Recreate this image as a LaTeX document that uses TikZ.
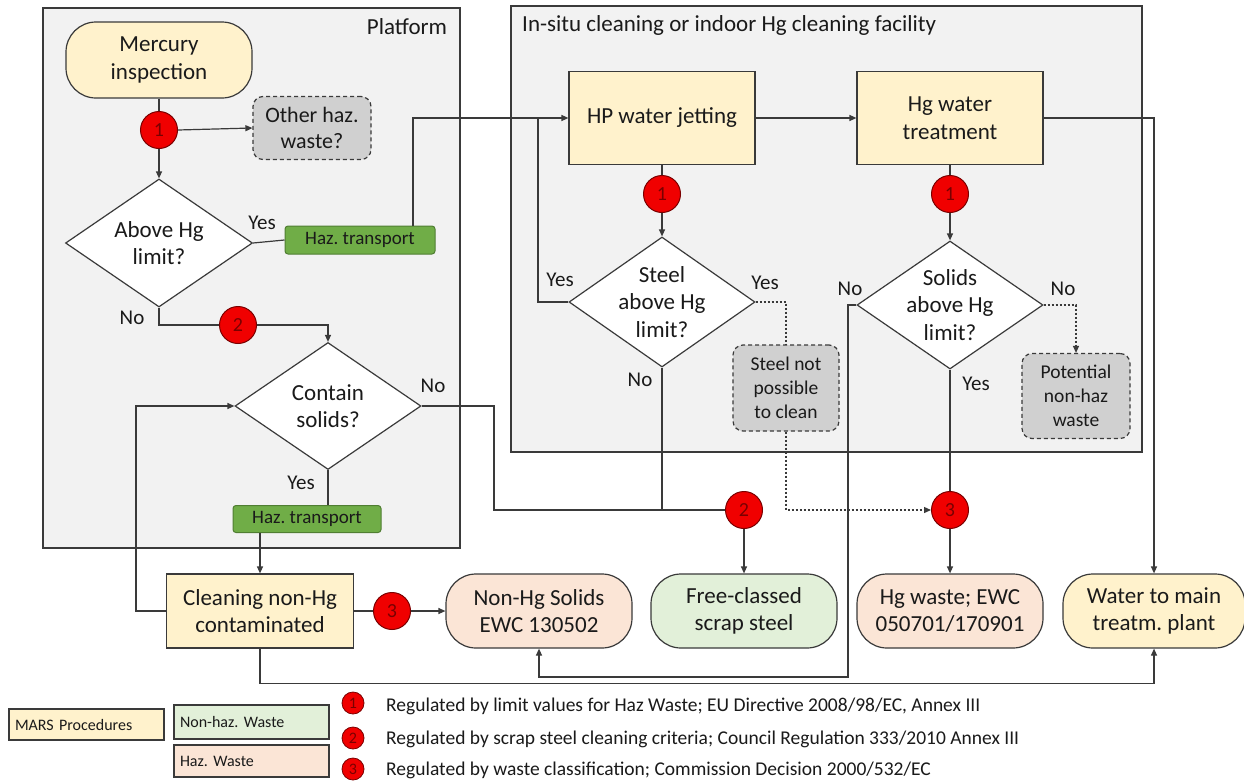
\documentclass[tikz,border=0pt]{standalone}
\usepackage{fontspec}
\setmainfont{Carlito}
\frenchspacing
\usetikzlibrary{shapes.geometric,arrows.meta,calc}
\definecolor{mars}{HTML}{FFF2CC}
\definecolor{nonhaz}{HTML}{E2F0D9}
\definecolor{hazc}{HTML}{FBE5D6}
\definecolor{zone}{HTML}{F2F2F2}
\definecolor{grayb}{HTML}{D0D0D0}
\definecolor{hazt}{HTML}{70AD47}
\definecolor{haztb}{HTML}{507E32}
\definecolor{linec}{HTML}{3A3A3A}
\definecolor{redc}{HTML}{F00000}
\definecolor{numc}{HTML}{7A0000}
\definecolor{txtc}{HTML}{1A1A1A}
\tikzset{
  conn/.style={draw=linec, line width=1.2pt},
  arr/.style={conn, -{Triangle[length=7pt,width=6pt]}},
  dotc/.style={conn, dash pattern=on 2pt off 2pt},
  dotarr/.style={dotc, -{Triangle[length=7pt,width=6pt]}},
  zonebox/.style={draw=linec, line width=1.2pt, fill=zone},
  txt/.style={font=\fontsize{23}{27.5}\selectfont, align=center, text=txtc},
  lbl/.style={font=\fontsize{21}{25}\selectfont, text=txtc, inner sep=0},
  proc/.style={txt, draw=linec, line width=1.2pt, fill=mars, inner sep=0},
  term/.style={txt, draw=linec, line width=1.2pt, rounded corners=30pt, inner sep=0, minimum width=186pt, minimum height=74pt},
  dia/.style={diamond, draw=linec, line width=1.2pt, fill=white, inner sep=0},
  num/.style={circle, fill=redc, draw=numc, line width=1pt, minimum size=37pt, inner sep=0, font=\fontsize{20}{20}\selectfont, text=numc},
  lnum/.style={circle, fill=redc, draw=numc, line width=0.8pt, minimum size=22pt, inner sep=0, font=\fontsize{16}{16}\selectfont, text=numc},
  gbox/.style={font=\fontsize{19.5}{24}\selectfont, align=center, text=txtc, draw=linec, line width=1.2pt, dash pattern=on 4pt off 3pt, rounded corners=10pt, fill=grayb, inner sep=0},
  hazbox/.style={font=\fontsize{19}{19}\selectfont, text=txtc, draw=haztb, line width=1pt, fill=hazt, rounded corners=3pt, inner sep=0},
  legbox/.style={font=\fontsize{16}{16}\selectfont, text=txtc, draw=linec, line width=1.2pt, inner sep=0, align=left},
  legtxt/.style={font=\fontsize{19.5}{19.5}\selectfont, text=txtc, inner sep=0, anchor=west}
}
\begin{document}
\begin{tikzpicture}[x=1pt,y=-1pt]
\useasboundingbox (0,0) rectangle (1244,782);
\fill[white] (0,0) rectangle (1244,782);

% zones
\path[zonebox] (43,8) rectangle (460,548);
\path[zonebox] (511,6) rectangle (1142,452);
\node[txt, anchor=center] (platlbl) at (407,27) {Platform};
\node[txt, anchor=west, inner sep=0] (insitulbl) at (522,25) {In-situ cleaning or indoor Hg cleaning facility};

% platform nodes
\node[term, fill=mars, minimum width=186pt, minimum height=76pt] (merc) at (159,60) {Mercury\\inspection};
\node[num] (c1a) at (159,130) {1};
\node[gbox, font=\fontsize{22}{26}\selectfont, minimum width=118pt, minimum height=63pt] (other) at (312,128) {Other haz.\\waste?};
\node[dia, minimum width=187pt, minimum height=128pt, label={[txt]center:Above Hg\\limit?}] (d1) at (159,243) {};
\node[hazbox, minimum width=150pt, minimum height=28pt] (haz1) at (360,240) {Haz. transport};
\node[num] (c2a) at (238,325) {2};
\node[dia, minimum width=186pt, minimum height=127pt, label={[txt]center:Contain\\solids?}] (d4) at (328,406) {};
\node[hazbox, minimum width=148pt, minimum height=27pt] (haz2) at (307,519) {Haz. transport};

% in-situ nodes
\node[proc, minimum width=186pt, minimum height=93pt] (hp) at (662,118) {HP water jetting};
\node[proc, minimum width=186pt, minimum height=93pt] (hgw) at (950,118) {Hg water\\treatment};
\node[num] (c1b) at (662,194) {1};
\node[num] (c1c) at (950,194) {1};
\node[dia, minimum width=186pt, minimum height=130pt, label={[txt]center:Steel\\above Hg\\limit?}] (d2) at (662,302) {};
\node[dia, minimum width=186pt, minimum height=128pt, label={[txt]center:Solids\\above Hg\\limit?}] (d3) at (950,305) {};
\node[gbox, minimum width=106pt, minimum height=86pt] (steelnp) at (786,388) {Steel not\\possible\\to clean};
\node[gbox, minimum width=108pt, minimum height=85pt] (pot) at (1076,396) {Potential\\non-haz\\waste};

% bottom row
\node[proc, minimum width=187pt, minimum height=74pt] (clean) at (260,611) {Cleaning non-Hg\\contaminated};
\node[num] (c3a) at (392,611) {3};
\node[term, fill=hazc] (nonhg) at (539,611) {Non-Hg Solids\\EWC 130502};
\node[term, fill=nonhaz] (free) at (744,611) {Free-classed\\scrap steel};
\node[term, fill=hazc] (hgwaste) at (950,611) {Hg waste; EWC\\050701/170901};
\node[term, fill=mars, minimum width=182pt] (water) at (1154,611) {Water to main\\treatm. plant};
\node[num] (c2b) at (744,510) {2};
\node[num] (c3b) at (950,510) {3};

% labels
\node[lbl] (l1) at (262,223) {Yes};
\node[lbl] (l2) at (132,318) {No};
\node[lbl] (l3) at (433,386) {No};
\node[lbl] (l4) at (301,483) {Yes};
\node[lbl] (l5) at (560,280) {Yes};
\node[lbl] (l6) at (765,283) {Yes};
\node[lbl] (l7) at (640,380) {No};
\node[lbl] (l8) at (850,289) {No};
\node[lbl] (l9) at (1063,289) {No};
\node[lbl] (l10) at (976,384) {Yes};

% coordinates
\coordinate (j1) at (538,118);
\coordinate (j2) at (413,118);
\coordinate (b1) at (848,677);
\coordinate (b2) at (494,406);

% connectors platform
\draw[conn] (merc.south) -- (c1a.north);
\draw[arr] (c1a.south) -- (d1.north);
\draw[arr] (c1a.east) -- (other.west);
\draw[conn] (d1.east) -- (haz1.west);
\draw[arr] (haz1.north -| j2) -- (j2) -- (hp.west);
\draw[conn] (d1.south) |- (c2a.west);
\draw[arr] (c2a.east) -| (d4.north);
\draw[conn] (d4.south) -- (d4.south |- haz2.north);
\draw[arr] (haz2.south -| clean.north) -- (clean.north);
\draw[arr] (clean.west) -- ++(-30,0) |- (d4.west);
\draw[conn] (clean.east) -- (c3a.west);
\draw[arr] (c3a.east) -- (nonhg.west);
\draw[arr] (clean.south) -- ++(0,35) -| (water.south);

% connectors in-situ
\draw[conn] (d2.west) -| (j1);
\draw[arr] (hp.east) -- (hgw.west);
\draw[conn] (hp.south) -- (c1b.north);
\draw[arr] (c1b.south) -- (d2.north);
\draw[conn] (hgw.south) -- (c1c.north);
\draw[arr] (c1c.south) -- (d3.north);
\draw[arr] (hgw.east) -| (water.north);
\draw[dotc] (d2.east) -| (steelnp.north);
\draw[dotarr] (steelnp.south) |- (c3b.west);
\draw[dotarr] (d3.east) -| (pot.north);
\draw[arr] (d3.west) -| (b1) -| (nonhg.south);
\draw[conn] (d3.south) -- (c3b.north);
\draw[arr] (c3b.south) -- (hgwaste.north);
\draw[conn] (d2.south) |- (c2b.west);
\draw[conn] (d4.east) -- (b2) |- (c2b.west);
\draw[arr] (c2b.south) -- (free.north);

% legend
\node[legbox, fill=mars, minimum width=155pt, minimum height=31pt, text width=143pt] (lmars) at (86.5,724.5) {MARS Procedures};
\node[legbox, fill=nonhaz, minimum width=155pt, minimum height=34pt, text width=143pt] (lnon) at (251.5,722) {Non-haz. Waste};
\node[legbox, fill=hazc, minimum width=155pt, minimum height=32pt, text width=143pt] (lhaz) at (251.5,761) {Haz. Waste};
\node[lnum] (ln1) at (353,703) {1};
\node[lnum] (ln2) at (353,738) {2};
\node[lnum] (ln3) at (353,769) {3};
\node[legtxt] (lt1) at (386,706) {Regulated by limit values for Haz Waste; EU Directive 2008/98/EC, Annex III};
\node[legtxt] (lt2) at (386,739) {Regulated by scrap steel cleaning criteria; Council Regulation 333/2010 Annex III};
\node[legtxt] (lt3) at (386,770) {Regulated by waste classification; Commission Decision 2000/532/EC};
\end{tikzpicture}
\end{document}
